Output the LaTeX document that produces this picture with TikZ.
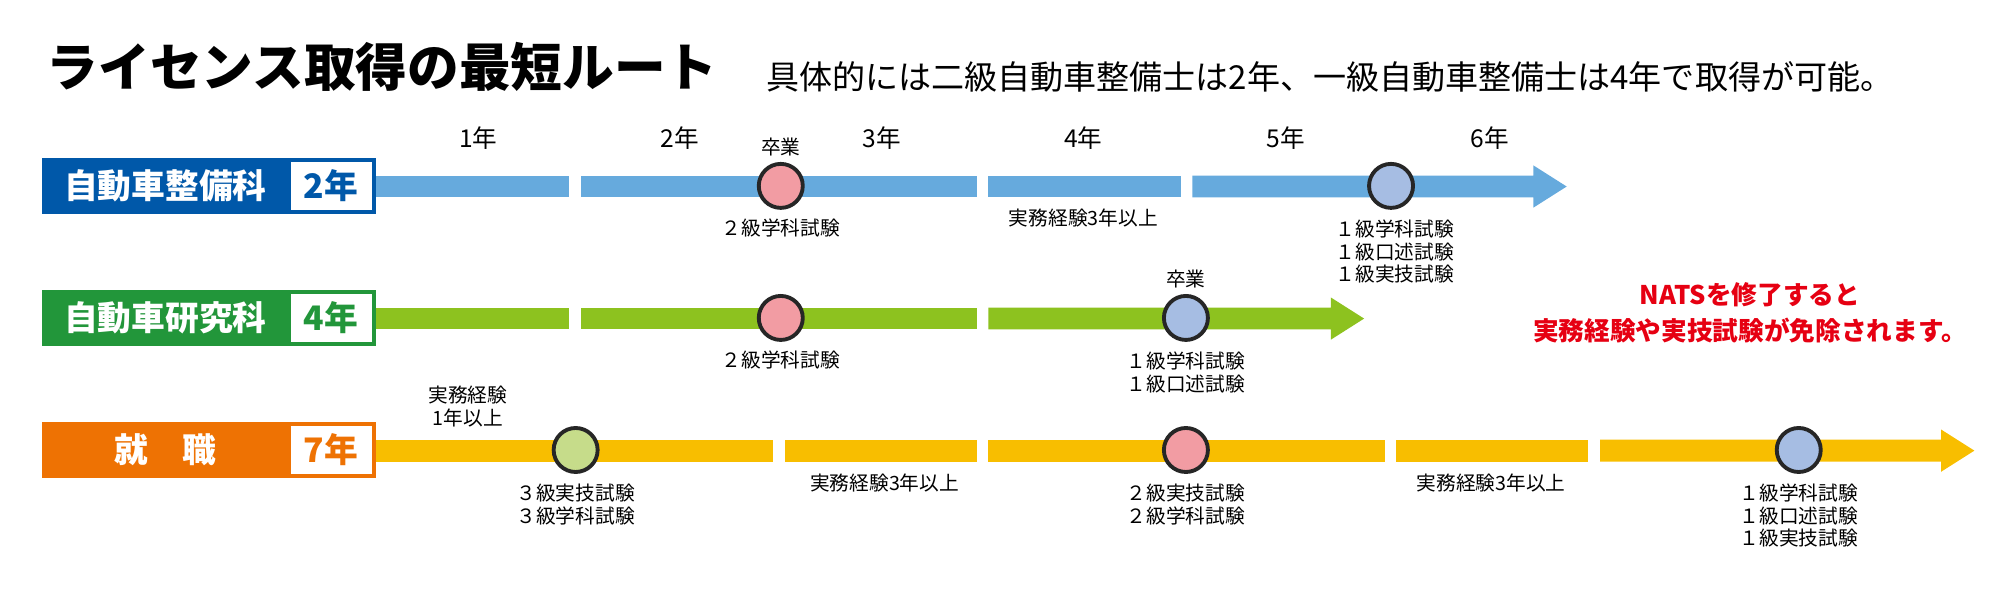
\documentclass[tikz,border=0pt]{standalone}
\usepackage{fontspec}
\setmainfont{Noto Sans CJK JP}
\usetikzlibrary{calc}

\definecolor{bluebox}{HTML}{0058A9}
\definecolor{bluebar}{HTML}{66AADD}
\definecolor{greenbox}{HTML}{22963A}
\definecolor{greenbar}{HTML}{8DC21F}
\definecolor{orangebox}{HTML}{EE7203}
\definecolor{yellowbar}{HTML}{F8BE00}
\definecolor{pinkdot}{HTML}{F29CA3}
\definecolor{bluedot}{HTML}{A6BDE3}
\definecolor{greendot}{HTML}{C6DC8A}
\definecolor{natsred}{HTML}{E60012}

\tikzset{
  dot/.style={draw=black!85,line width=1.1pt,circle,minimum size=0.44cm,inner sep=0pt},
  lbl/.style={font=\fontsize{5.6}{6.4}\selectfont,align=center,inner sep=0pt},
  year/.style={font=\fontsize{7}{7}\selectfont,inner sep=0pt},
  rowname/.style={font=\fontsize{9.6}{10}\bfseries,text=white,inner sep=0pt},
}

\begin{document}
\begin{tikzpicture}[x=0.01282cm,y=-0.01282cm]
    \useasboundingbox (0,0) rectangle (1560,468);

    % title
    \node[anchor=west,inner sep=0pt,font=\fontsize{14.7}{15}\bfseries] (title) at (36,52) {ライセンス取得の最短ルート};
    \node[anchor=west,inner sep=0pt,font=\fontsize{9.4}{10}\selectfont] (sub) at (597,60)
        {具体的には二級自動車整備士は2年、一級自動車整備士は4年で取得が可能。};

    % years
    \foreach \x/\t in {373/1,530/2,688/3,845/4,1003/5,1162/6}
        \node[year] (y\t) at (\x,108) {\t 年};

    % row boxes
    \foreach \r/\yc/\c/\n/\yr in {1/145/bluebox/自動車整備科/2,2/248/greenbox/自動車研究科/4,3/351/orangebox/就　職/7} {
        \fill[\c] (33,\yc-22) rectangle (293,\yc+22);
        \fill[white] (227,\yc-19) rectangle (290,\yc+19);
        \node[rowname] (name\r) at (129,\yc) {\n};
        \node[rowname,text=\c] (yr\r) at (258,\yc) {\yr 年};
    }

    % bars
    \foreach \a/\b in {293/444,453/762,771/921}
        \fill[bluebar] (\a,137) rectangle (\b,154);
    \fill[bluebar] (930,137) -- (1196,137) -- (1196,129) -- (1222,145.5) -- (1196,162) -- (1196,154) -- (930,154) -- cycle;

    \foreach \a/\b in {293/444,453/762}
        \fill[greenbar] (\a,240) rectangle (\b,257);
    \fill[greenbar] (771,240) -- (1038,240) -- (1038,232) -- (1064,248.5) -- (1038,265) -- (1038,257) -- (771,257) -- cycle;

    \foreach \a/\b in {293/603,612/762,771/1080,1089/1239}
        \fill[yellowbar] (\a,343) rectangle (\b,360);
    \fill[yellowbar] (1248,343) -- (1514,343) -- (1514,335) -- (1540,351.5) -- (1514,368) -- (1514,360) -- (1248,360) -- cycle;

    % row 1
    \node[dot,fill=pinkdot] (d11) at (609,145) {};
    \node[dot,fill=bluedot] (d12) at (1085,145) {};
    \node[lbl] (g11) at (609,115) {卒業};
    \node[lbl] (t11) at (609,178) {２級学科試験};
    \node[lbl] (t12) at (845,170) {実務経験3年以上};
    \node[lbl,anchor=north] (t13) at (1088,171) {１級学科試験\\１級口述試験\\１級実技試験};

    % row 2
    \node[dot,fill=pinkdot] (d21) at (609,248) {};
    \node[dot,fill=bluedot] (d22) at (925,248) {};
    \node[lbl] (g22) at (925,218) {卒業};
    \node[lbl] (t21) at (609,281) {２級学科試験};
    \node[lbl,anchor=north] (t22) at (925,274) {１級学科試験\\１級口述試験};
    \node[align=center,text=natsred,inner sep=0pt,font=\fontsize{7.3}{10}\bfseries] (nats) at (1365,244)
        {NATSを修了すると\\実務経験や実技試験が免除されます。};

    % row 3
    \node[dot,fill=greendot] (d31) at (449,351) {};
    \node[dot,fill=pinkdot] (d32) at (925,351) {};
    \node[dot,fill=bluedot] (d33) at (1403,351) {};
    \node[lbl] (t30) at (365,317) {実務経験\\1年以上};
    \node[lbl,anchor=north] (t31) at (449,377) {３級実技試験\\３級学科試験};
    \node[lbl] (t32) at (690,377) {実務経験3年以上};
    \node[lbl,anchor=north] (t33) at (925,377) {２級実技試験\\２級学科試験};
    \node[lbl] (t34) at (1163,377) {実務経験3年以上};
    \node[lbl,anchor=north] (t35) at (1403,377) {１級学科試験\\１級口述試験\\１級実技試験};
\end{tikzpicture}
\end{document}
